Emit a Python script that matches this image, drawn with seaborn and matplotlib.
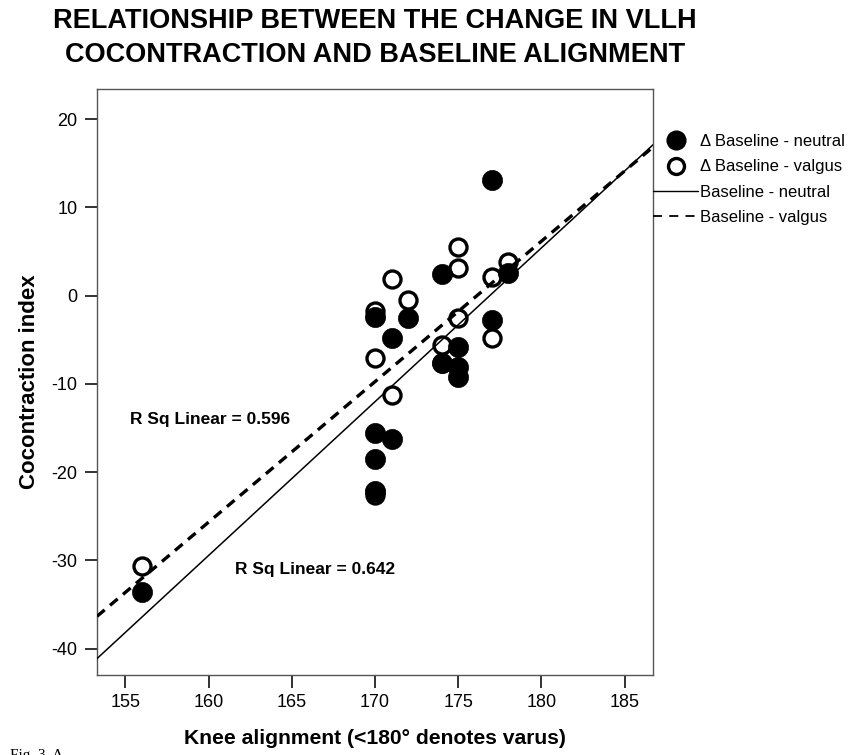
import numpy as np
import pandas as pd
import seaborn as sns
import matplotlib
matplotlib.use("Agg")
import matplotlib.pyplot as plt
from matplotlib.lines import Line2D

# Knee alignment (degrees) and change in VLLH cocontraction index per subject
knee_neutral = [156, 170, 170, 170, 170, 171, 171, 172, 174, 174, 175, 175, 175, 177, 177, 178]
coco_neutral = [-33.6, -2.4, -15.6, -18.5, -22.2, -4.8, -16.3, -2.6, 2.4, -7.6, -5.8, -8.1, -9.2, 13.1, -2.8, 2.5]
knee_valgus = [156, 170, 170, 170, 170, 171, 171, 172, 174, 174, 175, 175, 175, 177, 177, 178]
coco_valgus = [-30.7, -1.8, -7.1, -22.6, -22.3, 1.9, -11.3, -0.5, -5.6, -7.6, 5.5, 3.1, -2.6, 2.1, -4.8, 3.8]

series_labels = ["\u0394 Baseline - neutral", "\u0394 Baseline - valgus"]
fit_labels = ["Baseline - neutral", "Baseline - valgus"]
rsq_labels = ["R Sq Linear = 0.642", "R Sq Linear = 0.596"]
title_lines = ["RELATIONSHIP BETWEEN THE CHANGE IN VLLH",
               "COCONTRACTION AND BASELINE ALIGNMENT"]
x_ticks = [155, 160, 165, 170, 175, 180, 185]
y_ticks = [-40, -30, -20, -10, 0, 10, 20]

df_n = pd.DataFrame({"knee": knee_neutral, "coco": coco_neutral})
df_v = pd.DataFrame({"knee": knee_valgus, "coco": coco_valgus})

sns.set_theme(style="white")
plt.rcParams["font.family"] = ["Liberation Sans", "DejaVu Sans"]
plt.rcParams.update({"text.color": "black", "axes.labelcolor": "black",
                     "xtick.color": "black", "ytick.color": "black",
                     "axes.unicode_minus": False})

W, H = 849, 755
fig = plt.figure(figsize=(W / 100, H / 100), dpi=100)
ax_l, ax_r, ax_t, ax_b = 97, 653, 89, 675
ax = fig.add_axes([ax_l / W, 1 - ax_b / H, (ax_r - ax_l) / W, (ax_b - ax_t) / H])

xlim = (153.3, 186.7)
ylim = (-43.0, 23.4)
ax.set_xlim(*xlim)
ax.set_ylim(*ylim)

# open markers (valgus) underneath, filled markers (neutral) on top
sns.scatterplot(data=df_v, x="knee", y="coco", ax=ax, s=150, marker="o",
                facecolor="white", edgecolor="black", linewidth=2.4, zorder=2)
sns.scatterplot(data=df_n, x="knee", y="coco", ax=ax, s=210, marker="o",
                color="black", edgecolor="black", linewidth=0.5, zorder=3)

# linear fits spanning the full axis range
sns.regplot(data=df_n, x="knee", y="coco", ax=ax, scatter=False, ci=None,
            truncate=False, line_kws=dict(color="black", lw=1.1, zorder=4))
sns.regplot(data=df_v, x="knee", y="coco", ax=ax, scatter=False, ci=None,
            truncate=False, line_kws=dict(color="black", lw=2.4,
                                          linestyle=(0, (3.0, 2.1)), zorder=4))
ax.set_xlim(*xlim)
ax.set_ylim(*ylim)

ax.text(155.3, -14.1, rsq_labels[1], fontsize=12.5, fontweight="bold",
        ha="left", va="center")
ax.text(161.6, -31.0, rsq_labels[0], fontsize=12.5, fontweight="bold",
        ha="left", va="center")

ax.set_xticks(x_ticks)
ax.set_yticks(y_ticks)
ax.tick_params(axis="both", direction="out", length=9, width=1.3,
               color="#222222", labelsize=13, pad=5, bottom=True, left=True)
for sp in ax.spines.values():
    sp.set_color("#555555")
    sp.set_linewidth(1.0)

ax.set_xlabel("Knee alignment (<180\u00b0 denotes varus)", fontsize=15.2,
              fontweight="bold", labelpad=13)
ax.set_ylabel("Cocontraction index", fontsize=16, fontweight="bold")
ax.yaxis.set_label_coords((40 - ax_l) / (ax_r - ax_l), 0.5)

title_x = (ax_l + ax_r) / 2 / W
fig.text(title_x, 1 - 21 / H, title_lines[0], ha="center", va="center",
         fontsize=19.5, fontweight="bold")
fig.text(title_x, 1 - 55 / H, title_lines[1], ha="center", va="center",
         fontsize=19.5, fontweight="bold")

handles = [
    Line2D([], [], linestyle="none", marker="o", markersize=13.5,
           markerfacecolor="black", markeredgecolor="black"),
    Line2D([], [], linestyle="none", marker="o", markersize=11.5,
           markerfacecolor="white", markeredgecolor="black", markeredgewidth=2.4),
    Line2D([], [], color="black", lw=1.0),
    Line2D([], [], color="black", lw=1.3, linestyle=(0, (5, 4))),
]
fig.legend(handles, series_labels + fit_labels, loc="upper left",
           bbox_to_anchor=(ax_r / W, 1 - 134 / H), frameon=False,
           fontsize=12, handlelength=2.7, handletextpad=0.15,
           borderpad=0, borderaxespad=0, labelspacing=0.62)

fig.text(10 / W, 1 - 749 / H, "Fig. 3. A", family=["Liberation Serif"],
         fontsize=11, ha="left", va="top")

fig.savefig("out.png", dpi=100)
